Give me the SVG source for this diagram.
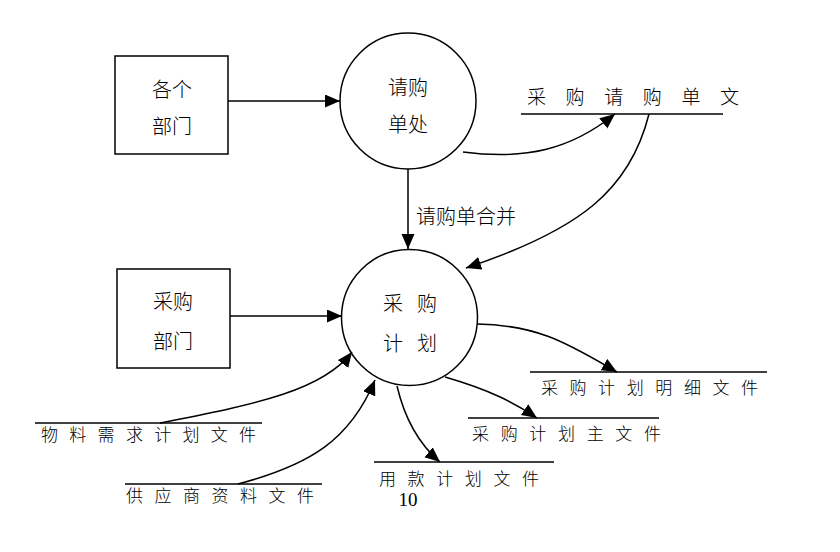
<svg xmlns="http://www.w3.org/2000/svg" width="840" height="552" viewBox="0 0 840 552">
<defs>
<style>
.shape{fill:none;stroke:#000;stroke-width:1.5}
.edge{fill:none;stroke:#000;stroke-width:1.5}
.store{stroke:#000;stroke-width:1.5}
.lbl{font-family:"Noto Sans CJK SC","Noto Sans",sans-serif;font-weight:300;font-size:20px;fill:#000;text-anchor:middle;dominant-baseline:central}
.st{font-family:"Noto Sans CJK SC","Noto Sans",sans-serif;font-weight:300;font-size:17px;fill:#000;text-anchor:middle;dominant-baseline:central}
.num{font-family:"Liberation Serif",serif;font-size:19px;fill:#000;text-anchor:middle;dominant-baseline:central}
</style>
<marker id="arr" markerUnits="userSpaceOnUse" markerWidth="16" markerHeight="14" refX="15" refY="6.5" orient="auto">
<path d="M0,0 L15,6.5 L0,13 z" fill="#000"/>
</marker>
</defs>
<rect width="840" height="552" fill="#fff"/>

<g id="node-gebumen">
<rect class="shape" x="115" y="56" width="113" height="98"/>
<text class="lbl" x="172" y="88">各个</text>
<text class="lbl" x="172" y="125">部门</text>
</g>

<g id="node-qinggoudanchu">
<circle class="shape" cx="408" cy="101" r="68"/>
<text class="lbl" x="408" y="86">请购</text>
<text class="lbl" x="408" y="123">单处</text>
</g>

<g id="node-caigoubumen">
<rect class="shape" x="117" y="269" width="113" height="99"/>
<text class="lbl" x="173" y="300">采购</text>
<text class="lbl" x="173" y="340">部门</text>
</g>

<g id="node-caigoujihua">
<circle class="shape" cx="409.5" cy="317.5" r="68"/>
<text class="lbl" x="393 427" y="302">采购</text>
<text class="lbl" x="393 427" y="342">计划</text>
</g>

<g id="store-qinggoudan">
<line class="store" x1="521" y1="114" x2="723" y2="114"/>
<text class="lbl" style="font-size:19px" x="536.5 575.1 613.7 652.3 690.9 729.5" y="95">采购请购单文</text>
</g>

<g id="store-wuliao">
<line class="store" x1="35" y1="423" x2="262" y2="423"/>
<text class="st" x="49.5 77.8 106.1 134.4 162.7 191 219.3 247.6" y="433">物料需求计划文件</text>
</g>

<g id="store-gongyingshang">
<line class="store" x1="125" y1="484" x2="322" y2="484"/>
<text class="st" x="134.5 163 191.5 220 248.5 277 305.5" y="494">供应商资料文件</text>
</g>

<g id="store-yongkuan">
<line class="store" x1="374" y1="462" x2="554" y2="462"/>
<text class="st" x="387.5 416.1 444.7 473.3 501.9 530.5" y="477">用款计划文件</text>
</g>

<g id="store-zhuwenjian">
<line class="store" x1="468" y1="418" x2="659" y2="418"/>
<text class="st" x="480.5 509.2 537.8 566.5 595.2 623.8 652.5" y="432">采购计划主文件</text>
</g>

<g id="store-mingxi">
<line class="store" x1="530" y1="372" x2="767" y2="372"/>
<text class="st" x="549.5 578.1 606.6 635.2 663.8 692.4 720.9 749.5" y="386">采购计划明细文件</text>
</g>

<g id="connectors">
<line class="edge" x1="228" y1="101" x2="340" y2="101" marker-end="url(#arr)"/>
<line class="edge" x1="230" y1="316" x2="342" y2="316" marker-end="url(#arr)"/>
<line class="edge" x1="408" y1="169" x2="408" y2="249" marker-end="url(#arr)"/>
<text class="lbl" style="text-anchor:start" x="416" y="215">请购单合并</text>
<path class="edge" d="M463,152 C525,160 570,150 615,114" marker-end="url(#arr)"/>
<path class="edge" d="M649,114 C630,190 580,230 466,268" marker-end="url(#arr)"/>
<path class="edge" d="M160,423 C250,405 322,392 352,352" marker-end="url(#arr)"/>
<path class="edge" d="M238,484 C310,465 350,440 375,380" marker-end="url(#arr)"/>
<path class="edge" d="M477,324 C540,325 570,345 617,372" marker-end="url(#arr)"/>
<path class="edge" d="M445,377 C490,390 515,403 537,418" marker-end="url(#arr)"/>
<path class="edge" d="M397,386 C405,420 420,445 440,462" marker-end="url(#arr)"/>
</g>

<text class="num" x="408" y="499">10</text>
</svg>
